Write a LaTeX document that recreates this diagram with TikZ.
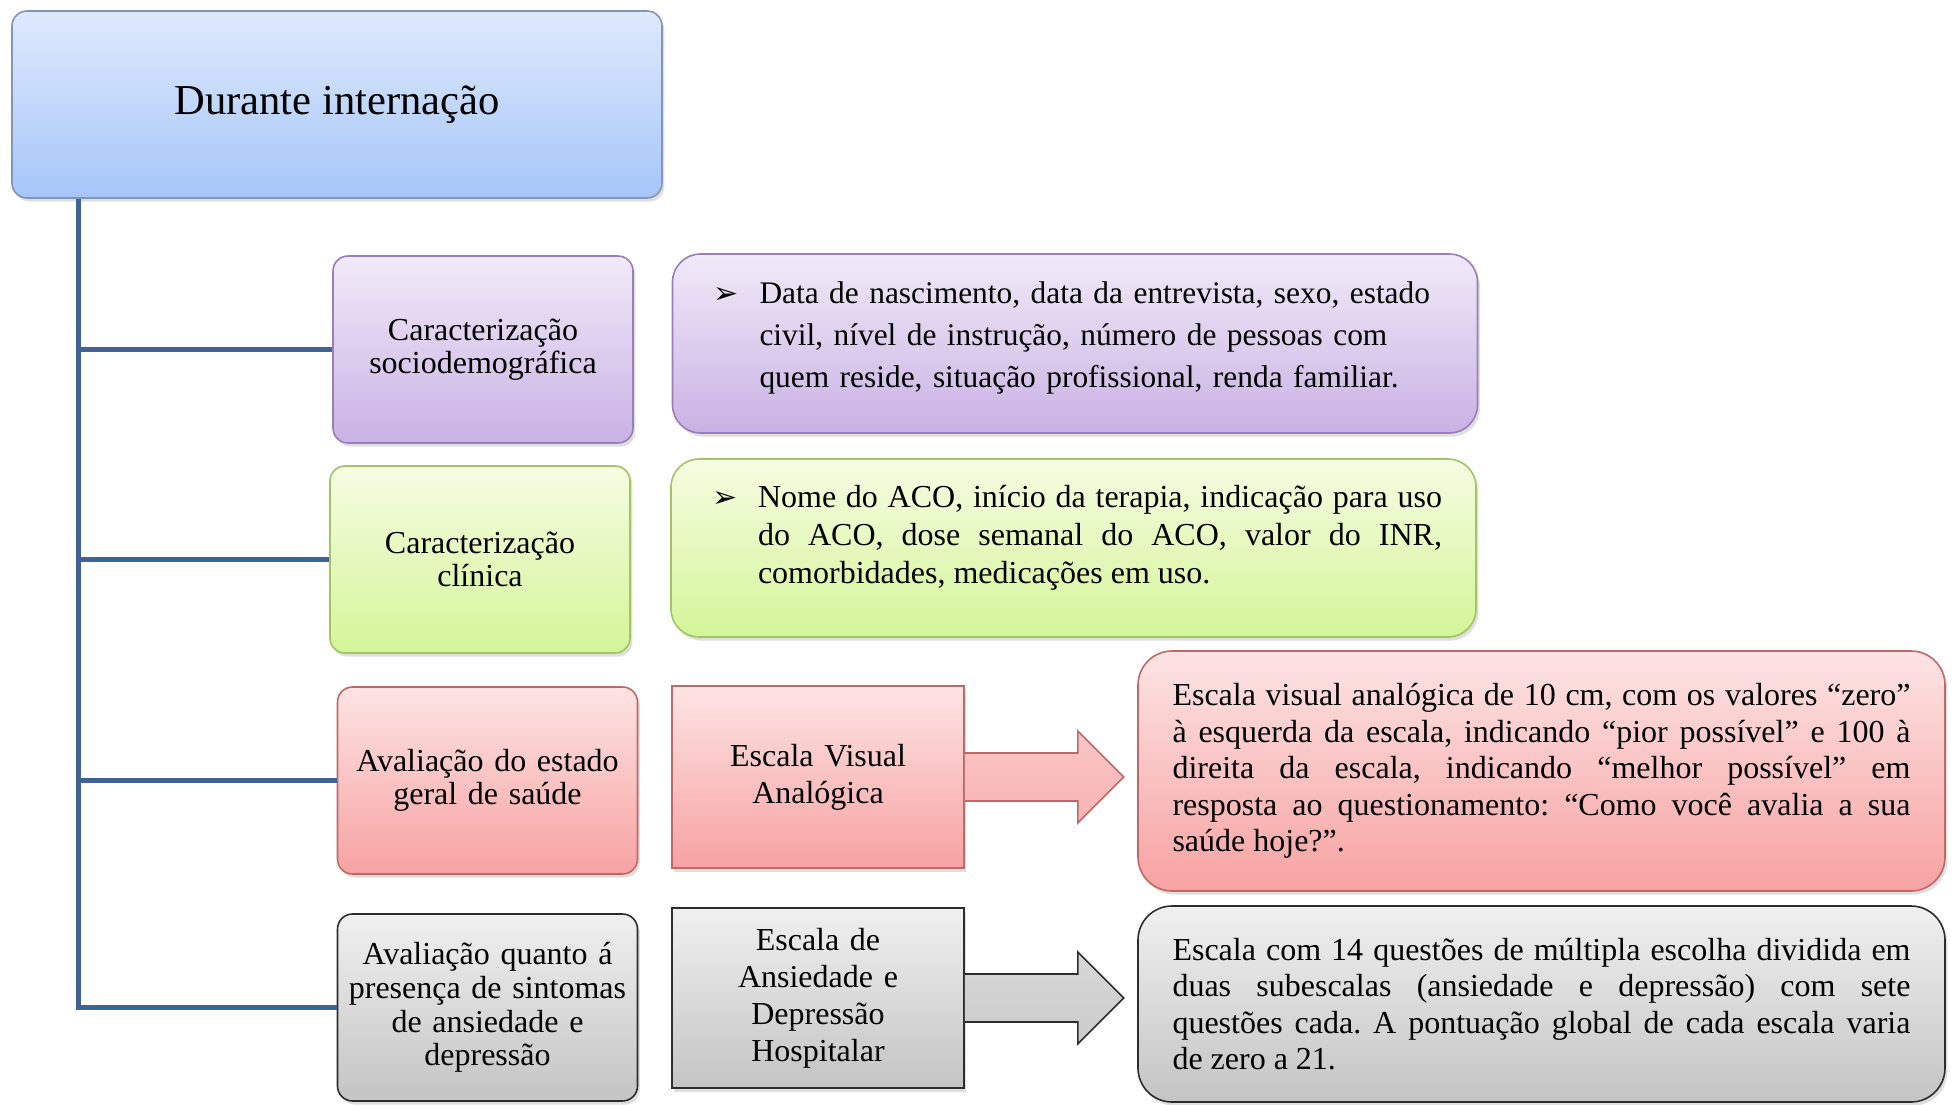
\documentclass[tikz,border=0pt]{standalone}
\usepackage{fontspec}
\setmainfont{Liberation Serif}
\newfontfamily\dingfont{DejaVu Sans}
\usetikzlibrary{positioning,shadows}
\frenchspacing
\definecolor{trunkblue}{RGB}{62,99,148}
\definecolor{skyTop}{RGB}{222,234,252}
\definecolor{skyBot}{RGB}{166,197,248}
\definecolor{skyLine}{RGB}{130,150,182}
\definecolor{lilacTop}{RGB}{241,234,248}
\definecolor{lilacBot}{RGB}{201,178,228}
\definecolor{lilacLine}{RGB}{152,126,186}
\definecolor{limeTop}{RGB}{246,252,226}
\definecolor{limeBot}{RGB}{212,245,152}
\definecolor{limeLine}{RGB}{162,196,98}
\definecolor{roseTop}{RGB}{253,228,228}
\definecolor{roseBot}{RGB}{247,162,162}
\definecolor{roseLine}{RGB}{192,104,104}
\definecolor{greyTop}{RGB}{240,240,240}
\definecolor{greyBot}{RGB}{196,196,196}
\definecolor{greyLine}{RGB}{45,45,45}

\newcommand{\seta}{\hspace*{3.5pt}\makebox[23pt][l]{\dingfont\fontsize{15}{15}\selectfont ➢}}

\begin{document}
\begin{tikzpicture}[
    x=0.5pt, y=-0.5pt,
    card/.style={rectangle, rounded corners=7.5pt, line width=0.8pt,
                 drop shadow={opacity=0.25, shadow xshift=1.2pt, shadow yshift=-1.8pt}},
    topic/.style={card, minimum width=150pt, minimum height=93.5pt, inner xsep=5pt,
                  text width=140pt, align=center, font=\fontsize{16}{16.8}\selectfont},
    info/.style={card, rounded corners=14pt, minimum width=402.5pt, inner xsep=17pt,
                 text width=368.5pt, align=left},
    scalebox/.style={rectangle, line width=0.8pt, minimum width=146pt, inner xsep=5pt,
                     text width=136pt, align=center, font=\fontsize{16}{18.5}\selectfont,
                     drop shadow={opacity=0.25, shadow xshift=1.2pt, shadow yshift=-1.8pt}},
    note/.style={card, rounded corners=17pt, minimum width=403.5pt, inner xsep=17.25pt,
                 text width=369pt, align=justify, font=\fontsize{16}{18.2}\selectfont},
    pointer/.style={line width=0.8pt},
    trunk/.style={trunkblue, line width=2.4pt},
    sky/.style={top color=skyTop, bottom color=skyBot, draw=skyLine},
    lilac/.style={top color=lilacTop, bottom color=lilacBot, draw=lilacLine},
    lime/.style={top color=limeTop, bottom color=limeBot, draw=limeLine},
    rose/.style={top color=roseTop, bottom color=roseBot, draw=roseLine},
    grey/.style={top color=greyTop, bottom color=greyBot, draw=greyLine}
]
    \useasboundingbox (0,0) rectangle (1955,1104);

    \node[card, sky, minimum width=325pt, minimum height=93.5pt,
          font=\fontsize{21.3}{24}\selectfont] (title) at (337,104.5) {Durante internação};

    \node[topic, lilac] (socio) at (483,349.5) {Caracterização\\sociodemográfica};
    \node[topic, lime] (clin) at (480,559.5) {Caracterização\\clínica};
    \node[topic, rose] (saude) at (487.5,780.5) {Avaliação do estado\\geral de saúde};
    \node[topic, grey] (ansi) at (487.5,1007.5) {Avaliação quanto á\\presença de sintomas\\de ansiedade e\\depressão};

    \node[info, lilac, minimum height=89.5pt, font=\fontsize{15.7}{21}\selectfont] (sociotxt) at (1075,343.5)
        {\seta\parbox[t]{342pt}{\raggedright Data de nascimento, data da entrevista, sexo, estado\\civil, nível de instrução, número de pessoas com\\quem reside, situação profissional, renda familiar.\par\vspace{6pt}}};
    \node[info, lime, minimum height=89pt, align=justify, font=\fontsize{16}{19}\selectfont] (clintxt) at (1073.5,548)
        {\seta\parbox[t]{342pt}{\spaceskip=0pt\xspaceskip=0pt Nome do ACO, início da terapia, indicação para uso\linebreak do ACO, dose semanal do ACO, valor do INR,\linebreak comorbidades, medicações em uso.\par\vspace{10pt}}};

    \node[scalebox, rose, minimum height=91pt] (eva) at (818,777) {Escala Visual\\Analógica};
    \node[scalebox, grey, minimum height=90pt] (hads) at (818,998) {Escala de\\Ansiedade e\\Depressão\\Hospitalar};

    \draw[pointer, draw=roseLine, top color=roseTop!55!roseBot, bottom color=roseTop!25!roseBot]
        ([yshift=12pt]eva.east) -- ++(113,0) -- ++(0,-22) -- ++(46,46) -- ++(-46,46) -- ++(0,-22) -- ([yshift=-12pt]eva.east);
    \draw[pointer, draw=greyLine, top color=greyTop!45!greyBot, bottom color=greyTop!15!greyBot]
        ([yshift=12pt]hads.east) -- ++(113,0) -- ++(0,-22) -- ++(46,46) -- ++(-46,46) -- ++(0,-22) -- ([yshift=-12pt]hads.east);

    \node[note, rose, minimum height=120pt] (evatxt) at (1541.5,771)
        {Escala visual analógica de 10 cm, com os valores “zero”\linebreak à esquerda da escala, indicando “pior possível” e 100 à\linebreak direita da escala, indicando “melhor possível” em\linebreak resposta ao questionamento: “Como você avalia a sua\linebreak saúde hoje?”.};
    \node[note, grey, minimum height=98pt] (hadstxt) at (1541.5,1004)
        {Escala com 14 questões de múltipla escolha dividida em\linebreak duas subescalas (ansiedade e depressão) com sete\linebreak questões cada. A pontuação global de cada escala varia\linebreak de zero a 21.\par\vspace{4pt}};

    \coordinate (stem) at ([xshift=33.5pt]title.south west);
    \draw[trunk] (stem) |- (ansi.west);
    \foreach \n in {socio,clin,saude}
        \draw[trunk] (stem |- \n.west) -- (\n.west);
\end{tikzpicture}
\end{document}
